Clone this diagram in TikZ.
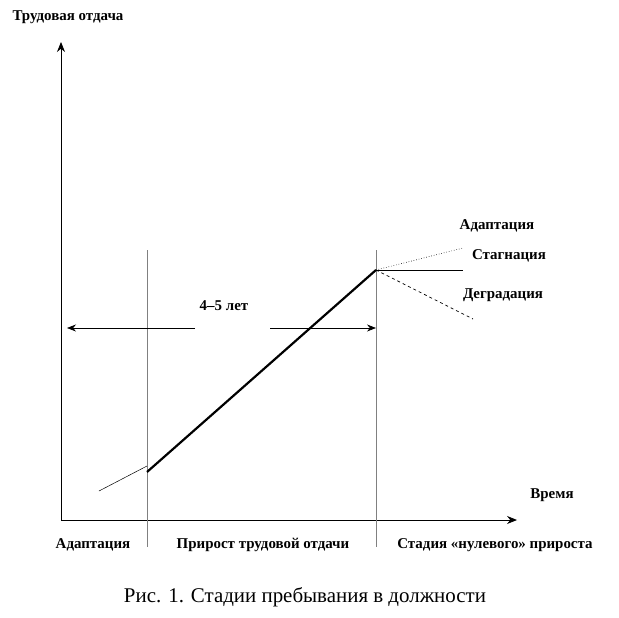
\documentclass[tikz,border=0pt]{standalone}
\usepackage{fontspec}
\setmainfont{Liberation Serif}
\usepackage{tikz}
\usetikzlibrary{positioning}
\usetikzlibrary{arrows.meta}

\begin{document}
\begin{tikzpicture}[
			x=1bp, y=-1bp,
			label/.style={font=\bfseries\fontsize{15}{17}\selectfont, inner sep=0pt},
			axis/.style={line width=0.9pt, -{Stealth[length=10pt,width=8pt]}},
			stage/.style={draw=gray, line width=0.5pt},
			]
			\useasboundingbox (0,0) rectangle (619,618);
			% axes
			\coordinate (O) at (61,520);
			\coordinate (ytop) at (61,42);
			\coordinate (xend) at (517,520);
			\draw[axis] (O) -- (ytop);
			\draw[axis] (O) -- (xend);
			\node[label] (ylab) at (68,17) {Трудовая отдача};
			\node[label] (xlab) at (552,495) {Время};
			% stage borders
			\coordinate (s1top) at (147,250);
			\coordinate (s1bot) at (147,547);
			\coordinate (s2top) at (376,250);
			\coordinate (s2bot) at (376,547);
			\draw[stage] (s1top) -- (s1bot);
			\draw[stage] (s2top) -- (s2bot);
			% curve
			\coordinate (a0) at (99,491);
			\coordinate (a1) at (147,466);
			\coordinate (g0) at (147,472);
			\coordinate (peak) at (376,270);
			\coordinate (up) at (463,248);
			\coordinate (flat) at (463,270);
			\coordinate (down) at (473,319);
			\draw[line width=0.5pt] (a0) -- (a1);
			\draw[line width=2.2pt] (g0) -- (peak);
			\draw[line width=0.6pt, dotted] (peak) -- (up);
			\draw[line width=0.7pt] (peak) -- (flat);
			\draw[line width=0.7pt, dashed] (peak) -- (down);
			\node[label] (adapt) at (497,226) {Адаптация};
			\node[label] (stag) at (509,256) {Стагнация};
			\node[label] (degr) at (503,295) {Деградация};
			% duration
			\coordinate (l1) at (195,328);
			\coordinate (l0) at (67,328);
			\coordinate (r0) at (270,328);
			\coordinate (r1) at (376,328);
			\draw[line width=0.7pt, -{Stealth[length=9pt,width=7pt]}] (l1) -- (l0);
			\draw[line width=0.7pt, -{Stealth[length=9pt,width=7pt]}] (r0) -- (r1);
			\node[label] (years) at (224,306) {4–5 лет};
			% stages
			\node[label] (st1) at (93,545) {Адаптация};
			\node[label] (st2) at (263,545) {Прирост трудовой отдачи};
			\node[label] (st3) at (495,545) {Стадия «нулевого» прироста};
			\node[font=\fontsize{21}{24}\selectfont, inner sep=0pt] (caption) at (305,597) {Рис. 1. Стадии пребывания в должности};
		\end{tikzpicture}
\end{document}
